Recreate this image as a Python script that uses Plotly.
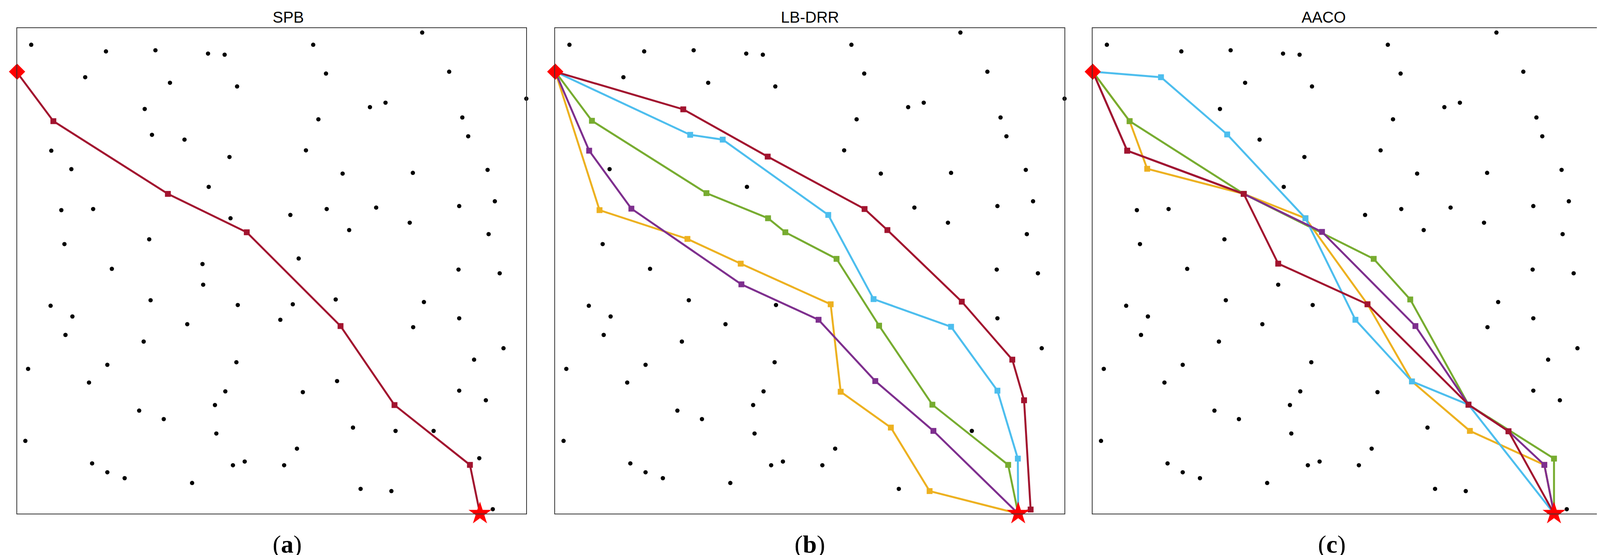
import plotly.graph_objects as go

# obstacle positions (map units, y grows downward)
obs_x = [81, 297, 440, 592, 640, 896, 1211, 933, 1289, 1512, 237, 482, 676, 409, 1060, 1105, 911, 1327, 1344, 430,
         524, 139, 654, 875, 197, 981, 1184, 1400, 594, 168, 260, 830, 935, 1078, 1318, 1421, 657, 1000, 1175, 177,
         422, 1403, 854, 314, 576, 578, 1316, 1435, 137, 426, 678, 837, 961, 1216, 200, 180, 532, 801, 1185, 1318,
         406, 72, 301, 674, 1446, 1361, 248, 642, 866, 965, 1318, 1395, 393, 464, 612, 1011, 1134, 1244, 64, 616,
         849, 1376, 257, 301, 351, 664, 698, 812, 546, 1033, 1122, 1415]
obs_y = [113, 131, 128, 137, 140, 113, 80, 191, 186, 259, 201, 216, 226, 287, 282, 270, 315, 310, 361, 357,
         370, 400, 417, 399, 450, 462, 460, 452, 498, 561, 558, 574, 558, 554, 550, 537, 583, 615, 595, 653,
         640, 626, 692, 720, 707, 763, 722, 732, 820, 805, 818, 816, 803, 810, 849, 899, 870, 858, 878, 854,
         917, 991, 980, 973, 935, 966, 1028, 1052, 1054, 1024, 1050, 1076, 1104, 1127, 1089, 1150, 1159, 1159, 1186, 1166,
         1207, 1233, 1247, 1271, 1287, 1252, 1242, 1252, 1300, 1316, 1322, 1371]

start = (40, 186)
goal = (1378, 1383)

spb_red = [(40, 188), (145, 320), (476, 517), (704, 621), (975, 875), (1131, 1089), (1349, 1251), (1378, 1383)]

lb_yellow = [(40, 186), (168, 561), (422, 639), (576, 706), (836, 816), (865, 1053), (1010, 1150), (1122, 1322), (1378, 1383)]
lb_purple = [(40, 186), (138, 400), (260, 557), (578, 762), (801, 858), (965, 1024), (1133, 1159), (1378, 1383)]
lb_green = [(40, 186), (146, 319), (477, 515), (655, 583), (705, 621), (853, 693), (976, 874), (1130, 1088), (1349, 1251), (1378, 1383)]
lb_blue = [(40, 186), (430, 357), (524, 370), (829, 574), (960, 802), (1184, 877), (1318, 1050), (1377, 1234), (1378, 1383)]
lb_red = [(40, 186), (410, 288), (654, 416), (934, 558), (1000, 615), (1215, 809), (1361, 966), (1395, 1076), (1414, 1372), (1378, 1383)]

ac_yellow = [(40, 186), (147, 320), (198, 449), (478, 517), (657, 583), (837, 816), (966, 1025), (1134, 1159), (1350, 1251), (1378, 1383)]
ac_green = [(40, 186), (147, 320), (478, 517), (855, 693), (961, 803), (1130, 1088), (1378, 1234), (1378, 1383)]
ac_blue = [(40, 186), (238, 201), (430, 356), (657, 583), (802, 858), (966, 1025), (1130, 1088), (1378, 1383)]
ac_purple = [(40, 186), (140, 400), (478, 517), (705, 620), (976, 875), (1130, 1088), (1246, 1160), (1350, 1251), (1378, 1383)]
ac_red = [(40, 186), (140, 400), (478, 517), (578, 706), (837, 816), (1130, 1088), (1246, 1160), (1378, 1383)]

C_RED = "#A2142F"
C_BLUE = "#4DBEEE"
C_GREEN = "#77AC30"
C_PURPLE = "#7E2F8E"
C_YELLOW = "#EDB120"

panels = [
    ("SPB", "a", [(spb_red, C_RED)]),
    ("LB-DRR", "b", [(lb_yellow, C_YELLOW), (lb_purple, C_PURPLE), (lb_green, C_GREEN),
                     (lb_blue, C_BLUE), (lb_red, C_RED)]),
    ("AACO", "c", [(ac_yellow, C_YELLOW), (ac_green, C_GREEN), (ac_blue, C_BLUE),
                   (ac_purple, C_PURPLE), (ac_red, C_RED)]),
]
domains = [(38 / 4370, 1429 / 4370), (1508 / 4370, 2899 / 4370), (2976 / 4370, 4362 / 4370)]
y_dom = (1 - 1307 / 1421, 1 - 64 / 1421)

fig = go.Figure()
for i, (title, tag, paths) in enumerate(panels):
    sfx = "" if i == 0 else str(i + 1)
    xa, ya = "x" + sfx, "y" + sfx
    fig.add_trace(go.Scatter(x=obs_x, y=obs_y, mode="markers", xaxis=xa, yaxis=ya,
                             marker=dict(color="black", size=11), cliponaxis=False, showlegend=False))
    for pts, col in paths:
        fig.add_trace(go.Scatter(x=[p[0] for p in pts], y=[p[1] for p in pts], mode="lines+markers",
                                 xaxis=xa, yaxis=ya, line=dict(color=col, width=5),
                                 marker=dict(symbol="square", size=15, color=col),
                                 cliponaxis=False, showlegend=False))
    fig.add_trace(go.Scatter(x=[start[0]], y=[start[1]], mode="markers", xaxis=xa, yaxis=ya,
                             marker=dict(symbol="diamond", size=32, color="#FF0000"),
                             cliponaxis=False, showlegend=False))
    fig.add_trace(go.Scatter(x=[goal[0]], y=[goal[1]], mode="markers", xaxis=xa, yaxis=ya,
                             marker=dict(symbol="star", size=44, color="#FF0000"),
                             cliponaxis=False, showlegend=False))
    ax = dict(domain=domains[i], range=[40, 1512], showticklabels=False, ticks="", showgrid=False,
              zeroline=False, showline=True, linecolor="#333", linewidth=1.5, mirror=True)
    ay = dict(domain=y_dom, range=[1383, 68], showticklabels=False, ticks="", showgrid=False,
              zeroline=False, showline=True, linecolor="#333", linewidth=1.5, mirror=True, anchor=xa)
    ax["anchor"] = ya
    fig.layout["xaxis" + sfx] = ax
    fig.layout["yaxis" + sfx] = ay
    cx = (domains[i][0] + domains[i][1]) / 2
    fig.add_annotation(text=title, x=cx, y=y_dom[1], xref="paper", yref="paper", yanchor="bottom",
                       yshift=4, showarrow=False, font=dict(family="Liberation Sans", size=40, color="black"))
    fig.add_annotation(text="(<b>%s</b>)" % tag, x=cx, y=0.025, xref="paper", yref="paper",
                       yanchor="middle", showarrow=False,
                       font=dict(family="Liberation Serif", size=64, color="black"))

fig.update_layout(autosize=True, margin=dict(l=0, r=0, t=0, b=0),
                  plot_bgcolor="white", paper_bgcolor="white")
fig.write_html("out.html", default_width="100vw", default_height="100vh")
